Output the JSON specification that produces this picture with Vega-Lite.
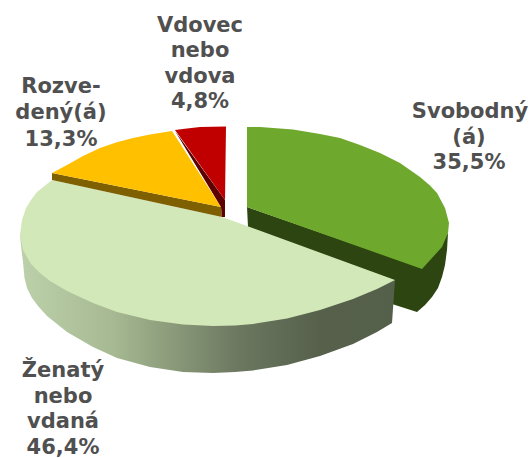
{"$schema":"https://vega.github.io/schema/vega-lite/v6.json","width":531,"height":458,"padding":0,"autosize":{"type":"none"},"background":"white","view":{"stroke":null},
"datasets":{"shapes":[
{"part":"g_side","i":1,"x":247,"y":207},{"part":"g_side","i":2,"x":422,"y":268},{"part":"g_side","i":3,"x":448,"y":233},{"part":"g_side","i":4,"x":447,"y":250},{"part":"g_side","i":5,"x":445,"y":265},{"part":"g_side","i":6,"x":442,"y":277},{"part":"g_side","i":7,"x":438,"y":288},{"part":"g_side","i":8,"x":432,"y":297},{"part":"g_side","i":9,"x":425,"y":305},{"part":"g_side","i":10,"x":417,"y":312},{"part":"g_side","i":11,"x":392,"y":304},{"part":"g_side","i":12,"x":393,"y":285},{"part":"g_side","i":13,"x":248,"y":227},
{"part":"g_top","i":1,"x":247,"y":127},{"part":"g_top","i":2,"x":260,"y":127},{"part":"g_top","i":3,"x":293,"y":129.5},{"part":"g_top","i":4,"x":320,"y":134},{"part":"g_top","i":5,"x":340,"y":138},{"part":"g_top","i":6,"x":360,"y":145},{"part":"g_top","i":7,"x":380,"y":153},{"part":"g_top","i":8,"x":400,"y":163},{"part":"g_top","i":9,"x":420,"y":177},{"part":"g_top","i":10,"x":430,"y":185.5},{"part":"g_top","i":11,"x":437,"y":193},{"part":"g_top","i":12,"x":445,"y":208},{"part":"g_top","i":13,"x":449,"y":223},{"part":"g_top","i":14,"x":448,"y":233},{"part":"g_top","i":15,"x":442,"y":247},{"part":"g_top","i":16,"x":432,"y":258},{"part":"g_top","i":17,"x":422,"y":269},{"part":"g_top","i":18,"x":247,"y":207},
{"part":"l_side","i":1,"x":20,"y":235},{"part":"l_side","i":2,"x":200,"y":300},{"part":"l_side","i":3,"x":395,"y":280},{"part":"l_side","i":4,"x":392,"y":323},{"part":"l_side","i":5,"x":377,"y":332},{"part":"l_side","i":6,"x":353,"y":344},{"part":"l_side","i":7,"x":320,"y":356},{"part":"l_side","i":8,"x":287,"y":365},{"part":"l_side","i":9,"x":253,"y":370.5},{"part":"l_side","i":10,"x":235,"y":372},{"part":"l_side","i":11,"x":213,"y":373},{"part":"l_side","i":12,"x":183,"y":372},{"part":"l_side","i":13,"x":150,"y":367},{"part":"l_side","i":14,"x":117,"y":358},{"part":"l_side","i":15,"x":93,"y":347},{"part":"l_side","i":16,"x":67,"y":332},{"part":"l_side","i":17,"x":47,"y":316},{"part":"l_side","i":18,"x":38,"y":306},{"part":"l_side","i":19,"x":32,"y":298},{"part":"l_side","i":20,"x":27,"y":288},{"part":"l_side","i":21,"x":24.5,"y":278},{"part":"l_side","i":22,"x":23,"y":262},{"part":"l_side","i":23,"x":21.5,"y":250},
{"part":"l_top","i":1,"x":52,"y":180},{"part":"l_top","i":2,"x":37,"y":192},{"part":"l_top","i":3,"x":31,"y":200},{"part":"l_top","i":4,"x":26,"y":208},{"part":"l_top","i":5,"x":22,"y":220},{"part":"l_top","i":6,"x":20,"y":235},{"part":"l_top","i":7,"x":23,"y":250},{"part":"l_top","i":8,"x":31,"y":264},{"part":"l_top","i":9,"x":40,"y":273},{"part":"l_top","i":10,"x":50,"y":281},{"part":"l_top","i":11,"x":67,"y":291},{"part":"l_top","i":12,"x":93,"y":303},{"part":"l_top","i":13,"x":117,"y":312},{"part":"l_top","i":14,"x":150,"y":320},{"part":"l_top","i":15,"x":183,"y":324.5},{"part":"l_top","i":16,"x":213,"y":326},{"part":"l_top","i":17,"x":235,"y":325.5},{"part":"l_top","i":18,"x":253,"y":324},{"part":"l_top","i":19,"x":287,"y":318.5},{"part":"l_top","i":20,"x":320,"y":310},{"part":"l_top","i":21,"x":353,"y":299},{"part":"l_top","i":22,"x":377,"y":289},{"part":"l_top","i":23,"x":395,"y":280},{"part":"l_top","i":24,"x":247,"y":226},{"part":"l_top","i":25,"x":222,"y":217},
{"part":"y_side","i":1,"x":52,"y":173},{"part":"y_side","i":2,"x":221,"y":207},{"part":"y_side","i":3,"x":222,"y":217},{"part":"y_side","i":4,"x":52,"y":180},
{"part":"y_top","i":1,"x":52,"y":173},{"part":"y_top","i":2,"x":67,"y":165},{"part":"y_top","i":3,"x":83,"y":156},{"part":"y_top","i":4,"x":100,"y":148},{"part":"y_top","i":5,"x":116,"y":142.5},{"part":"y_top","i":6,"x":133,"y":138},{"part":"y_top","i":7,"x":150,"y":134.5},{"part":"y_top","i":8,"x":172,"y":131},{"part":"y_top","i":9,"x":221,"y":207},
{"part":"r_side","i":1,"x":175,"y":131},{"part":"r_side","i":2,"x":225,"y":200},{"part":"r_side","i":3,"x":225,"y":217},{"part":"r_side","i":4,"x":222,"y":217},{"part":"r_side","i":5,"x":221,"y":207},
{"part":"r_top","i":1,"x":175,"y":130},{"part":"r_top","i":2,"x":187,"y":128.5},{"part":"r_top","i":3,"x":200,"y":127},{"part":"r_top","i":4,"x":226,"y":126.5},{"part":"r_top","i":5,"x":225,"y":200}
],
"labels":[
{"t":"Vdovec","x":200,"y":32},{"t":"nebo","x":200,"y":57},{"t":"vdova","x":200,"y":83},{"t":"4,8%","x":200,"y":108},
{"t":"Rozve-","x":61,"y":93},{"t":"dený(á)","x":61,"y":119},{"t":"13,3%","x":61,"y":146},
{"t":"Svobodný","x":470,"y":118},{"t":"(á)","x":469,"y":144},{"t":"35,5%","x":469,"y":169},
{"t":"Ženatý","x":63,"y":377},{"t":"nebo","x":63,"y":403},{"t":"vdaná","x":63,"y":428},{"t":"46,4%","x":63,"y":454}
]},
"encoding":{
"x":{"field":"x","type":"quantitative","axis":null,"scale":{"domain":[0,531],"range":[0,531],"nice":false,"zero":false}},
"y":{"field":"y","type":"quantitative","axis":null,"scale":{"domain":[0,458],"range":[0,458],"nice":false,"zero":false}}
},
"layer":[
{"data":{"name":"shapes"},"transform":[{"filter":"datum.part==='g_side'||datum.part==='g_top'"}],"mark":{"type":"line","strokeWidth":0},
 "encoding":{"detail":{"field":"part"},"order":{"field":"i","type":"quantitative"},"fill":{"field":"part","type":"nominal","legend":null,"scale":{"domain":["g_side","g_top","y_side","y_top","r_side","r_top","l_top"],"range":["#2d4510","#6ea82c","#7f6000","#ffc000","#5c0000","#c00000","#d2e8b8"]}}}},
{"data":{"name":"shapes"},"transform":[{"filter":"datum.part==='l_side'"}],"mark":{"type":"line","strokeWidth":0,"fill":{"gradient":"linear","x1":0,"y1":0,"x2":1,"y2":0,"stops":[{"offset":0,"color":"#bcd0a9"},{"offset":0.25,"color":"#a6b992"},{"offset":0.58,"color":"#6c7860"},{"offset":0.8,"color":"#56604b"},{"offset":1,"color":"#55604b"}]}},
 "encoding":{"order":{"field":"i","type":"quantitative"}}},
{"data":{"name":"shapes"},"transform":[{"filter":"indexof(['l_top','y_side','y_top','r_side','r_top'],datum.part)>=0"}],"mark":{"type":"line","strokeWidth":0},
 "encoding":{"detail":{"field":"part"},"order":{"field":"i","type":"quantitative"},"fill":{"field":"part","type":"nominal","legend":null}}},
{"data":{"name":"labels"},"mark":{"type":"text","font":"DejaVu Sans","fontWeight":"bold","fontSize":21,"color":"#505050","align":"center","baseline":"alphabetic"},"encoding":{"text":{"field":"t","type":"nominal"}}}
]}
